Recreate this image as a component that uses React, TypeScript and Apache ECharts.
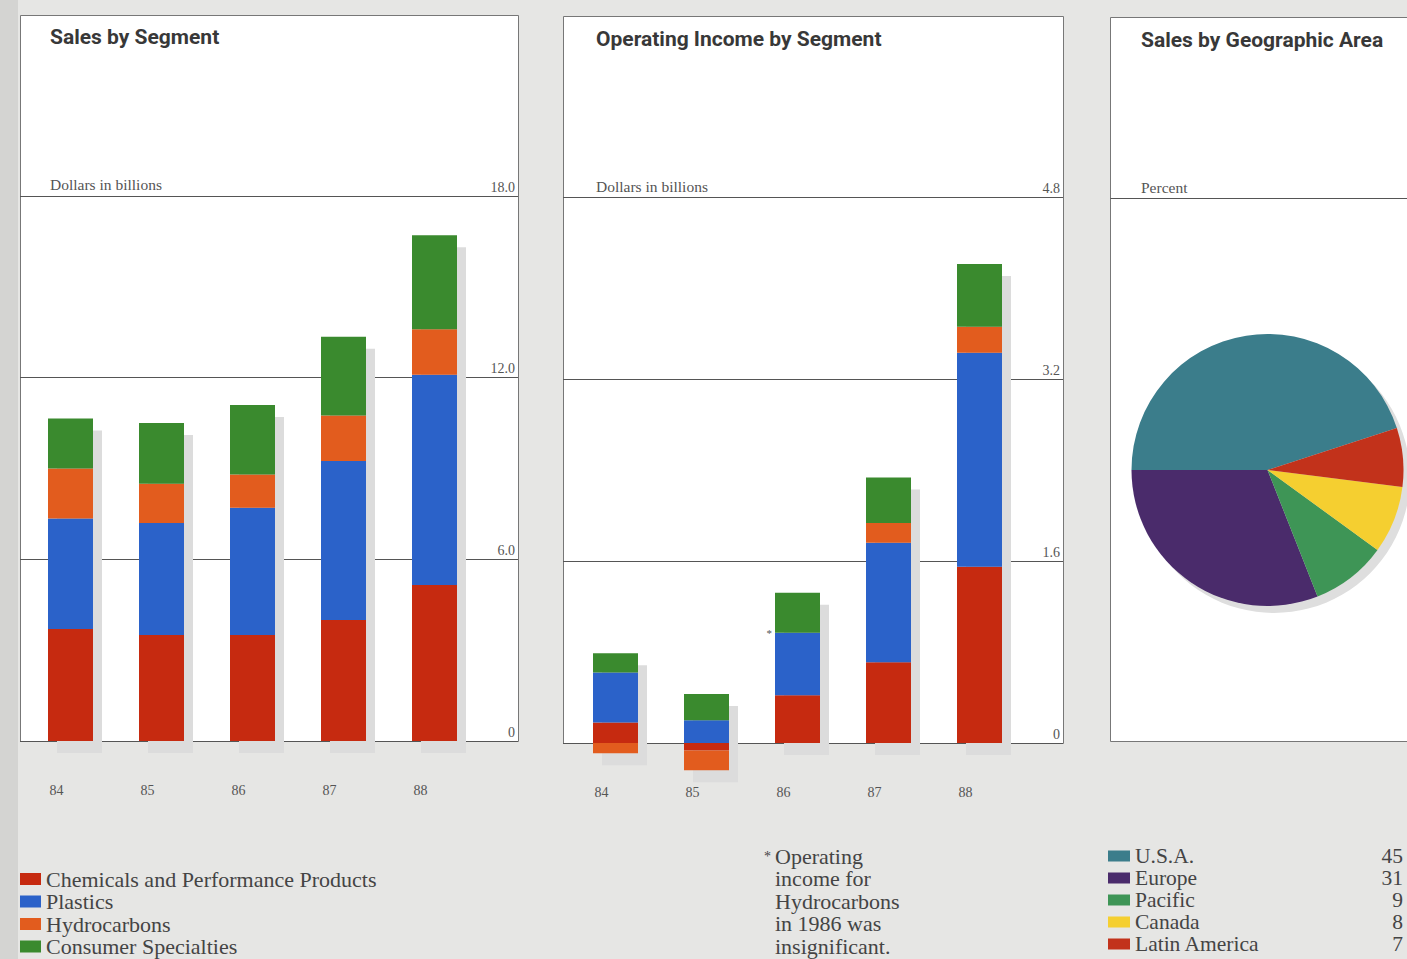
import React, { useEffect, useRef } from 'react';
import * as echarts from 'echarts';

// ---------- data ----------
const years = ['84', '85', '86', '87', '88'];
const segments = ['Chemicals and Performance Products', 'Plastics', 'Hydrocarbons', 'Consumer Specialties'];
const segmentColors = ['#c62a10', '#2b62c9', '#e25c1e', '#3a8a2e'];

const salesChemicals = [3.7, 3.5, 3.5, 4.0, 5.15];
const salesPlastics = [3.65, 3.7, 4.2, 5.25, 6.95];
const salesHydrocarbons = [1.65, 1.3, 1.1, 1.5, 1.5];
const salesConsumer = [1.65, 2.0, 2.3, 2.6, 3.1];

const incomeChemicals = [0.18, -0.065, 0.42, 0.71, 1.55];
const incomePlastics = [0.44, 0.2, 0.55, 1.05, 1.88];
const incomeHydrocarbons = [-0.09, -0.175, 0, 0.175, 0.23];
const incomeConsumer = [0.17, 0.23, 0.35, 0.4, 0.55];

const salesTicks = [0, 6, 12, 18];
const incomeTicks = [0, 1.6, 3.2, 4.8];

const geoAreas = ['U.S.A.', 'Europe', 'Pacific', 'Canada', 'Latin America'];
const geoPercent = [45, 31, 9, 8, 7];
const geoColors = ['#3b7d8b', '#4a2b6b', '#3e9556', '#f5cf30', '#c2321b'];

const footnote = ['Operating', 'income for', 'Hydrocarbons', 'in 1986 was', 'insignificant.'];

// ---------- styles ----------
const SERIF = "'Liberation Serif', 'DejaVu Serif', serif";
const SANS = "Roboto, 'Liberation Sans', sans-serif";
const INK = '#444';

function totals(groups: number[][]) {
  return years.map((_, i) => {
    let pos = 0;
    let neg = 0;
    groups.forEach((g) => {
      if (g[i] >= 0) pos += g[i];
      else neg += g[i];
    });
    return [i, pos, neg];
  });
}

export default function App() {
  const ref = useRef<HTMLDivElement>(null);

  useEffect(() => {
    document.body.style.margin = '0';
    document.body.style.background = '#e6e6e4';
    const chart = echarts.init(ref.current!, undefined, { renderer: 'svg' });

    const salesGroups = [salesChemicals, salesPlastics, salesHydrocarbons, salesConsumer];
    const incomeGroups = [incomeChemicals, incomePlastics, incomeHydrocarbons, incomeConsumer];

    const fullY = (gridIndex: number, ticks: number[]) => ({
      gridIndex,
      type: 'value',
      position: 'right',
      min: ticks[0],
      max: ticks[ticks.length - 1],
      interval: ticks[1] - ticks[0],
      axisLine: { show: false },
      axisTick: { show: false },
      splitLine: { show: true, lineStyle: { color: '#555', width: 1 } },
      axisLabel: {
        inside: true,
        margin: 3,
        verticalAlign: 'bottom',
        lineHeight: 18,
        fontFamily: SERIF,
        fontSize: 14,
        color: '#555',
        formatter: (v: number) => (v === 0 ? '0' : v.toFixed(1)),
      },
    });
    const barY = (gridIndex: number, ticks: number[]) => ({
      gridIndex,
      type: 'value',
      min: ticks[0],
      max: ticks[ticks.length - 1],
      interval: ticks[1] - ticks[0],
      show: false,
    });
    const barX = (gridIndex: number) => ({
      gridIndex,
      type: 'category',
      data: years,
      axisLine: { show: false },
      axisTick: { show: false },
      axisLabel: {
        margin: 42,
        formatter: (v: string) => `{a|${v}}`,
        rich: { a: { fontFamily: SERIF, fontSize: 14, color: '#555', padding: [0, 28, 0, 0] } },
      },
    });

    const barSeries = (groups: number[][], xi: number, yi: number, stack: string, asterisk: boolean) =>
      groups.map((g, k) => ({
        type: 'bar',
        name: segments[k],
        xAxisIndex: xi,
        yAxisIndex: yi,
        stack,
        barWidth: 45,
        clip: false,
        z: 3,
        itemStyle: { color: segmentColors[k] },
        label:
          asterisk && k === 2
            ? {
                show: true,
                position: 'left',
                distance: 3,
                formatter: (p: any) => (p.dataIndex === 2 ? '*' : ''),
                fontFamily: SERIF,
                fontSize: 11,
                color: '#555',
              }
            : { show: false },
        data: g,
      }));

    const shadowSeries = (groups: number[][], xi: number, yi: number) => ({
      type: 'custom',
      name: 'shadow',
      xAxisIndex: xi,
      yAxisIndex: yi,
      clip: false,
      z: 1,
      silent: true,
      data: totals(groups),
      encode: { x: 0, y: [1, 2] },
      renderItem: (params: any, api: any) => {
        const c = api.value(0);
        const p1 = api.coord([c, api.value(1)]);
        const p0 = api.coord([c, api.value(2)]);
        const w = 45;
        return {
          type: 'rect',
          shape: { x: p1[0] - w / 2 + 9, y: p1[1] + 12, width: w, height: p0[1] - p1[1] },
          style: { fill: '#dcdcdc' },
        };
      },
    });

    const titleText = (text: string, left: number, top: number) => ({
      text,
      left,
      top,
      padding: 0,
      textStyle: { fontFamily: SANS, fontWeight: 'bold', fontSize: 21, color: '#383838' },
    });
    const captionText = (text: string, left: number, top: number) => ({
      text,
      left,
      top,
      padding: 0,
      textStyle: { fontFamily: SERIF, fontWeight: 'normal', fontSize: 15.5, color: '#555' },
    });

    const pieStart = 180 - (geoPercent[0] / 100) * 360;

    chart.setOption({
      animation: false,
      backgroundColor: '#e6e6e4',
      title: [
        titleText('Sales by Segment', 50, 26),
        titleText('Operating Income by Segment', 596, 28),
        titleText('Sales by Geographic Area', 1141, 29),
        captionText('Dollars in billions', 50, 176),
        captionText('Dollars in billions', 596, 178),
        captionText('Percent', 1141, 179),
      ],
      grid: [
        { left: 20, top: 196, width: 498, height: 545 },
        { left: 25, top: 196, width: 455, height: 545 },
        { left: 563, top: 197, width: 500, height: 546 },
        { left: 570, top: 197, width: 455, height: 546 },
      ],
      xAxis: [
        { gridIndex: 0, type: 'value', show: false },
        barX(1),
        { gridIndex: 2, type: 'value', show: false },
        barX(3),
      ],
      yAxis: [fullY(0, salesTicks), barY(1, salesTicks), fullY(2, incomeTicks), barY(3, incomeTicks)],
      legend: [
        {
          data: segments,
          orient: 'vertical',
          left: 20,
          top: 868,
          padding: 0,
          itemGap: 0.5,
          itemWidth: 21,
          itemHeight: 12,
          itemTextGap: 7,
          icon: 'rect',
          selectedMode: false,
          textStyle: { fontFamily: SERIF, fontSize: 22, lineHeight: 22, color: INK },
        },
        {
          data: geoAreas,
          orient: 'vertical',
          left: 1108,
          top: 845,
          padding: 0,
          itemGap: 0,
          itemWidth: 22,
          itemHeight: 11,
          itemTextGap: 10,
          icon: 'rect',
          selectedMode: false,
          formatter: (name: string) => `{n|${name}}{v|${geoPercent[geoAreas.indexOf(name)]}}`,
          textStyle: {
            fontFamily: SERIF,
            fontSize: 21.5,
            lineHeight: 22,
            color: INK,
            rich: {
              n: { fontFamily: SERIF, fontSize: 21.5, lineHeight: 22, color: INK, width: 238 },
              v: { fontFamily: SERIF, fontSize: 21.5, lineHeight: 22, color: INK, width: 30, align: 'right' },
            },
          },
        },
      ],
      graphic: [
        { type: 'rect', z: -10, shape: { x: 0, y: 0, width: 18, height: 959 }, style: { fill: '#d4d4d2' } },
        { type: 'rect', z: -5, shape: { x: 20.5, y: 15.5, width: 498, height: 726 }, style: { fill: '#fff', stroke: '#777', lineWidth: 1 } },
        { type: 'rect', z: -5, shape: { x: 563.5, y: 16.5, width: 500, height: 727 }, style: { fill: '#fff', stroke: '#777', lineWidth: 1 } },
        { type: 'rect', z: -5, shape: { x: 1110.5, y: 17.5, width: 320, height: 724 }, style: { fill: '#fff', stroke: '#777', lineWidth: 1 } },
        { type: 'line', z: -4, shape: { x1: 1110.5, y1: 198.5, x2: 1407, y2: 198.5 }, style: { stroke: '#555', lineWidth: 1 } },
        { type: 'text', left: 764, top: 849, style: { text: '*', font: `14px ${SERIF}`, fill: INK } },
        {
          type: 'text',
          left: 775,
          top: 845,
          style: { text: footnote.join('\n'), font: `22px ${SERIF}`, lineHeight: 22.5, fill: INK },
        },
      ],
      series: [
        shadowSeries(salesGroups, 1, 1),
        ...barSeries(salesGroups, 1, 1, 'sales', false),
        shadowSeries(incomeGroups, 3, 3),
        ...barSeries(incomeGroups, 3, 3, 'income', true),
        {
          type: 'pie',
          name: 'pieShadow',
          silent: true,
          center: [1274, 477],
          radius: 136,
          z: 1,
          label: { show: false },
          labelLine: { show: false },
          data: [{ name: 'shadow', value: 1, itemStyle: { color: '#dedede' } }],
        },
        {
          type: 'pie',
          name: 'Sales by Geographic Area',
          center: [1267.5, 470],
          radius: 136,
          startAngle: pieStart,
          clockwise: false,
          z: 3,
          label: { show: false },
          labelLine: { show: false },
          itemStyle: { borderWidth: 0 },
          data: geoAreas.map((n, i) => ({ name: n, value: geoPercent[i], itemStyle: { color: geoColors[i] } })),
        },
      ],
    });

    return () => chart.dispose();
  }, []);

  return <div ref={ref} style={{ position: 'absolute', left: 0, top: 0, width: 1407, height: 959 }} />;
}
